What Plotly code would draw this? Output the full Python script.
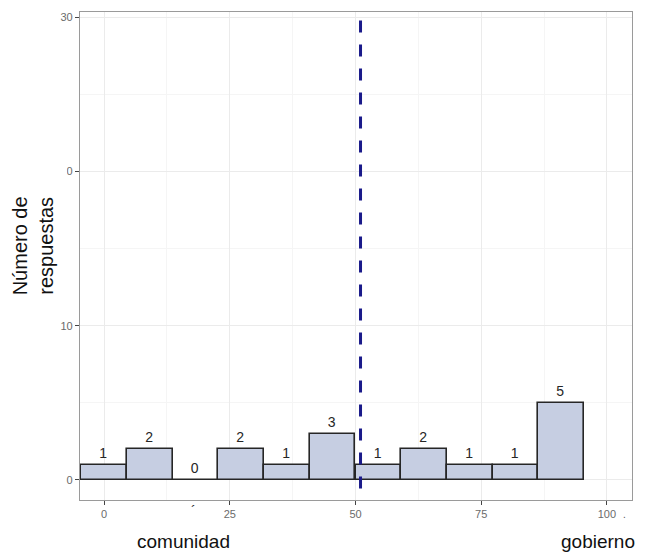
import plotly.graph_objects as go

# ---- data ----
bin_centers = [0.0, 9.09, 18.18, 27.27, 36.36, 45.45, 54.55, 63.64, 72.73, 81.82, 90.91]
counts = [1, 2, 0, 2, 1, 3, 1, 2, 1, 1, 5]
bin_width = 9.09
mean_value = 51.0
x_tick_vals = [0, 25, 50, 75, 100]
x_tick_text = ["0", "25", "50", "75", "100"]
y_tick_vals = [0, 10, 20, 30]
y_tick_text = ["0", "10", "20", "30"]
y_title = "Número de<br>respuestas"
left_label = "comunidad"
right_label = "gobierno"

FONT = "Liberation Sans, Arial, sans-serif"

fig = go.Figure()
fig.add_trace(go.Bar(
    x=bin_centers, y=counts, width=[bin_width] * len(counts),
    marker=dict(color="#C6CEE2", line=dict(color="#262626", width=1.6)),
    text=[str(c) for c in counts], textposition="outside",
    textfont=dict(family=FONT, size=14, color="#262626"),
    cliponaxis=False, showlegend=False, hoverinfo="skip",
))

# dashed reference line
fig.add_shape(type="line", xref="x", yref="y",
              x0=mean_value, x1=mean_value, y0=29.8, y1=-1.3,
              line=dict(color="#1A1A8A", width=3, dash="12px,12px"), layer="above")

# page has an 8px body margin: figure is 638x545, shifted by 8px
fig.update_layout(
    width=638, height=545,
    margin=dict(l=72, r=14, t=4, b=53),
    paper_bgcolor="white", plot_bgcolor="white",
    font=dict(family=FONT),
    bargap=0,
    xaxis=dict(
        range=[-4.8, 105.0], tickvals=x_tick_vals, ticktext=x_tick_text,
        showgrid=True, gridcolor="#EBEBEB", gridwidth=1,
        minor=dict(tickvals=[12.5, 37.5, 62.5, 87.5], showgrid=True,
                   gridcolor="#F5F5F5", gridwidth=1, ticks=""),
        ticks="outside", ticklen=4, tickcolor="#444", tickwidth=1,
        tickfont=dict(family=FONT, size=11, color="#6b6b6b"),
        showline=True, mirror=True, linecolor="#9a9a9a", linewidth=1.2,
        zeroline=False,
    ),
    yaxis=dict(
        range=[-1.3, 30.35], tickvals=y_tick_vals, ticktext=y_tick_text,
        showgrid=True, gridcolor="#EBEBEB", gridwidth=1,
        minor=dict(tickvals=[5, 15, 25], showgrid=True,
                   gridcolor="#F5F5F5", gridwidth=1, ticks=""),
        ticks="outside", ticklen=4, tickcolor="#444", tickwidth=1,
        tickfont=dict(family=FONT, size=11, color="#6b6b6b"),
        showline=True, mirror=True, linecolor="#9a9a9a", linewidth=1.2,
        zeroline=False,
    ),
)

# white patch over part of the left margin (as in the reference, which hides the "2")
fig.add_shape(type="rect", xref="paper", yref="paper",
              x0=-0.045, x1=-0.0237, y0=0.65, y1=0.69,
              fillcolor="white", line=dict(width=0), layer="above")

# y axis title
fig.add_annotation(text=y_title, xref="paper", yref="paper",
                   x=-0.085, y=0.52, xanchor="center", yanchor="middle",
                   textangle=-90, showarrow=False,
                   font=dict(family=FONT, size=20, color="#111"))

# bottom labels
fig.add_annotation(text=left_label, xref="x", yref="paper", x=15.8, y=-0.086,
                   xanchor="center", yanchor="middle",
                   showarrow=False, font=dict(family=FONT, size=19, color="#111"))
fig.add_annotation(text=right_label, xref="x", yref="paper", x=98.3, y=-0.086,
                   xanchor="center", yanchor="middle",
                   showarrow=False, font=dict(family=FONT, size=19, color="#111"))
# small leftover marks
fig.add_annotation(text="´", xref="x", yref="paper", x=17.8, y=-0.022,
                   xanchor="center", yanchor="middle",
                   showarrow=False, font=dict(family=FONT, size=14, color="#222"))
fig.add_annotation(text=".", xref="x", yref="paper", x=103.6, y=-0.03,
                   xanchor="center", yanchor="middle",
                   showarrow=False, font=dict(family=FONT, size=10, color="#555"))

fig.write_html("out.html")
